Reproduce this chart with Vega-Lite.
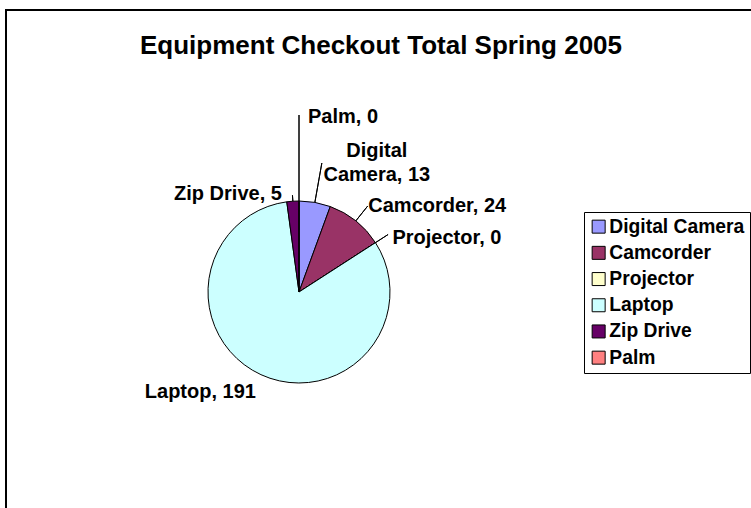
{
  "$schema": "https://vega.github.io/schema/vega-lite/v6.json",
  "autosize": {"type": "none"},
  "width": 760,
  "height": 520,
  "padding": {"left": 6, "top": 10, "right": -15, "bottom": -22},
  "background": "white",
  "view": {"stroke": "black", "strokeWidth": 2, "fill": null},
  "config": {
    "view": {"stroke": "black", "strokeWidth": 2},
    "style": {"view": {"stroke": "black", "strokeWidth": 2}},
    "font": "Liberation Sans"
  },
  "title": {
    "text": "Equipment Checkout Total Spring 2005",
    "anchor": "middle",
    "frame": "group",
    "offset": -70,
    "baseline": "alphabetic",
    "dx": -5,
    "fontSize": 26,
    "fontWeight": "bold",
    "font": "Liberation Sans",
    "color": "black"
  },
  "data": {
    "values": [
      {"cat": "Digital Camera", "value": 13, "ord": 1, "label": "Digital\nCamera, 13"},
      {"cat": "Camcorder", "value": 24, "ord": 2, "label": "Camcorder, 24"},
      {"cat": "Projector", "value": 0, "ord": 3, "label": "Projector, 0"},
      {"cat": "Laptop", "value": 191, "ord": 4, "label": "Laptop, 191"},
      {"cat": "Zip Drive", "value": 5, "ord": 5, "label": "Zip Drive, 5"},
      {"cat": "Palm", "value": 0, "ord": 6, "label": "Palm, 0"}
    ]
  },
  "layer": [
    {
      "mark": {"type": "arc", "x": 293, "y": 282, "radius": 91, "stroke": "black", "strokeWidth": 1},
      "encoding": {
        "theta": {"field": "value", "type": "quantitative", "stack": true},
        "order": {"field": "ord", "type": "quantitative"},
        "color": {
          "field": "cat",
          "type": "nominal",
          "scale": {
            "domain": ["Digital Camera", "Camcorder", "Projector", "Laptop", "Zip Drive", "Palm"],
            "range": ["#9999FF", "#993366", "#FFFFCC", "#CCFFFF", "#660066", "#FF8080"]
          },
          "legend": {
            "title": null,
            "orient": "none",
            "legendX": 578,
            "legendY": 202,
            "direction": "vertical",
            "symbolType": "square",
            "symbolSize": 169,
            "symbolStrokeColor": "black",
            "symbolStrokeWidth": 1,
            "symbolOpacity": 1,
            "labelFont": "Liberation Sans",
            "labelFontSize": 19.3,
            "labelFontWeight": "bold",
            "labelColor": "black",
            "labelOffset": 1,
            "labelLimit": 300,
            "rowPadding": 6.2,
            "padding": 5,
            "strokeColor": "black",
            "fillColor": "white"
          }
        }
      }
    },
    {
      "mark": {"type": "arc", "x": 293, "y": 282, "radius": 177, "radius2": 91, "padAngle": 3.14159, "fillOpacity": 0, "stroke": "black", "strokeWidth": 1},
      "encoding": {
        "theta": {"field": "value", "type": "quantitative", "stack": true},
        "order": {"field": "ord", "type": "quantitative"},
        "detail": {"field": "cat", "type": "nominal"},
        "strokeOpacity": {"condition": {"test": "datum.cat === 'Palm'", "value": 1}, "value": 0}
      }
    },
    {
      "mark": {"type": "arc", "x": 293, "y": 282, "radius": 131, "radius2": 91, "padAngle": 3.14159, "fillOpacity": 0, "stroke": "black", "strokeWidth": 1},
      "encoding": {
        "theta": {"field": "value", "type": "quantitative", "stack": true},
        "order": {"field": "ord", "type": "quantitative"},
        "detail": {"field": "cat", "type": "nominal"},
        "strokeOpacity": {"condition": {"test": "datum.cat === 'Digital Camera'", "value": 1}, "value": 0}
      }
    },
    {
      "mark": {"type": "arc", "x": 293, "y": 282, "radius": 110, "radius2": 91, "padAngle": 3.14159, "fillOpacity": 0, "stroke": "black", "strokeWidth": 1},
      "encoding": {
        "theta": {"field": "value", "type": "quantitative", "stack": true},
        "order": {"field": "ord", "type": "quantitative"},
        "detail": {"field": "cat", "type": "nominal"},
        "strokeOpacity": {"condition": {"test": "datum.cat === 'Camcorder'", "value": 1}, "value": 0}
      }
    },
    {
      "mark": {"type": "arc", "x": 293, "y": 282, "radius": 106, "radius2": 91, "padAngle": 3.14159, "fillOpacity": 0, "stroke": "black", "strokeWidth": 1},
      "encoding": {
        "theta": {"field": "value", "type": "quantitative", "stack": true},
        "order": {"field": "ord", "type": "quantitative"},
        "detail": {"field": "cat", "type": "nominal"},
        "strokeOpacity": {"condition": {"test": "datum.cat === 'Projector'", "value": 1}, "value": 0}
      }
    },
    {
      "mark": {"type": "arc", "x": 293, "y": 282, "radius": 97, "radius2": 91, "padAngle": 3.14159, "fillOpacity": 0, "stroke": "black", "strokeWidth": 1},
      "encoding": {
        "theta": {"field": "value", "type": "quantitative", "stack": true},
        "order": {"field": "ord", "type": "quantitative"},
        "detail": {"field": "cat", "type": "nominal"},
        "strokeOpacity": {"condition": {"test": "datum.cat === 'Zip Drive'", "value": 1}, "value": 0}
      }
    },
    {
      "mark": {"type": "text", "x": 293, "y": 282, "radius": 91, "dx": 9, "dy": -84, "align": "left", "baseline": "middle", "font": "Liberation Sans", "fontSize": 20, "fontWeight": "bold", "color": "black"},
      "encoding": {
        "theta": {"field": "value", "type": "quantitative", "stack": true},
        "order": {"field": "ord", "type": "quantitative"},
        "detail": {"field": "cat", "type": "nominal"},
        "text": {"condition": {"test": "datum.cat === 'Palm'", "field": "label"}, "value": ""}
      }
    },
    {
      "mark": {"type": "text", "x": 293, "y": 282, "radius": 91, "dx": 62, "dy": -51, "align": "center", "baseline": "middle", "lineBreak": "\n", "lineHeight": 24, "font": "Liberation Sans", "fontSize": 20, "fontWeight": "bold", "color": "black"},
      "encoding": {
        "theta": {"field": "value", "type": "quantitative", "stack": true},
        "order": {"field": "ord", "type": "quantitative"},
        "detail": {"field": "cat", "type": "nominal"},
        "text": {"condition": {"test": "datum.cat === 'Digital Camera'", "field": "label"}, "value": ""}
      }
    },
    {
      "mark": {"type": "text", "x": 293, "y": 282, "radius": 91, "dx": 12.5, "dy": -15, "align": "left", "baseline": "middle", "font": "Liberation Sans", "fontSize": 20, "fontWeight": "bold", "color": "black"},
      "encoding": {
        "theta": {"field": "value", "type": "quantitative", "stack": true},
        "order": {"field": "ord", "type": "quantitative"},
        "detail": {"field": "cat", "type": "nominal"},
        "text": {"condition": {"test": "datum.cat === 'Camcorder'", "field": "label"}, "value": ""}
      }
    },
    {
      "mark": {"type": "text", "x": 293, "y": 282, "radius": 91, "dx": 17, "dy": -5, "align": "left", "baseline": "middle", "font": "Liberation Sans", "fontSize": 20, "fontWeight": "bold", "color": "black"},
      "encoding": {
        "theta": {"field": "value", "type": "quantitative", "stack": true},
        "order": {"field": "ord", "type": "quantitative"},
        "detail": {"field": "cat", "type": "nominal"},
        "text": {"condition": {"test": "datum.cat === 'Projector'", "field": "label"}, "value": ""}
      }
    },
    {
      "mark": {"type": "text", "x": 293, "y": 282, "radius": 91, "dx": -5, "dy": 17.5, "align": "right", "baseline": "middle", "font": "Liberation Sans", "fontSize": 20, "fontWeight": "bold", "color": "black"},
      "encoding": {
        "theta": {"field": "value", "type": "quantitative", "stack": true},
        "order": {"field": "ord", "type": "quantitative"},
        "detail": {"field": "cat", "type": "nominal"},
        "text": {"condition": {"test": "datum.cat === 'Laptop'", "field": "label"}, "value": ""}
      }
    },
    {
      "mark": {"type": "text", "x": 293, "y": 282, "radius": 91, "dx": -11, "dy": -7, "align": "right", "baseline": "middle", "font": "Liberation Sans", "fontSize": 20, "fontWeight": "bold", "color": "black"},
      "encoding": {
        "theta": {"field": "value", "type": "quantitative", "stack": true},
        "order": {"field": "ord", "type": "quantitative"},
        "detail": {"field": "cat", "type": "nominal"},
        "text": {"condition": {"test": "datum.cat === 'Zip Drive'", "field": "label"}, "value": ""}
      }
    }
  ]
}
